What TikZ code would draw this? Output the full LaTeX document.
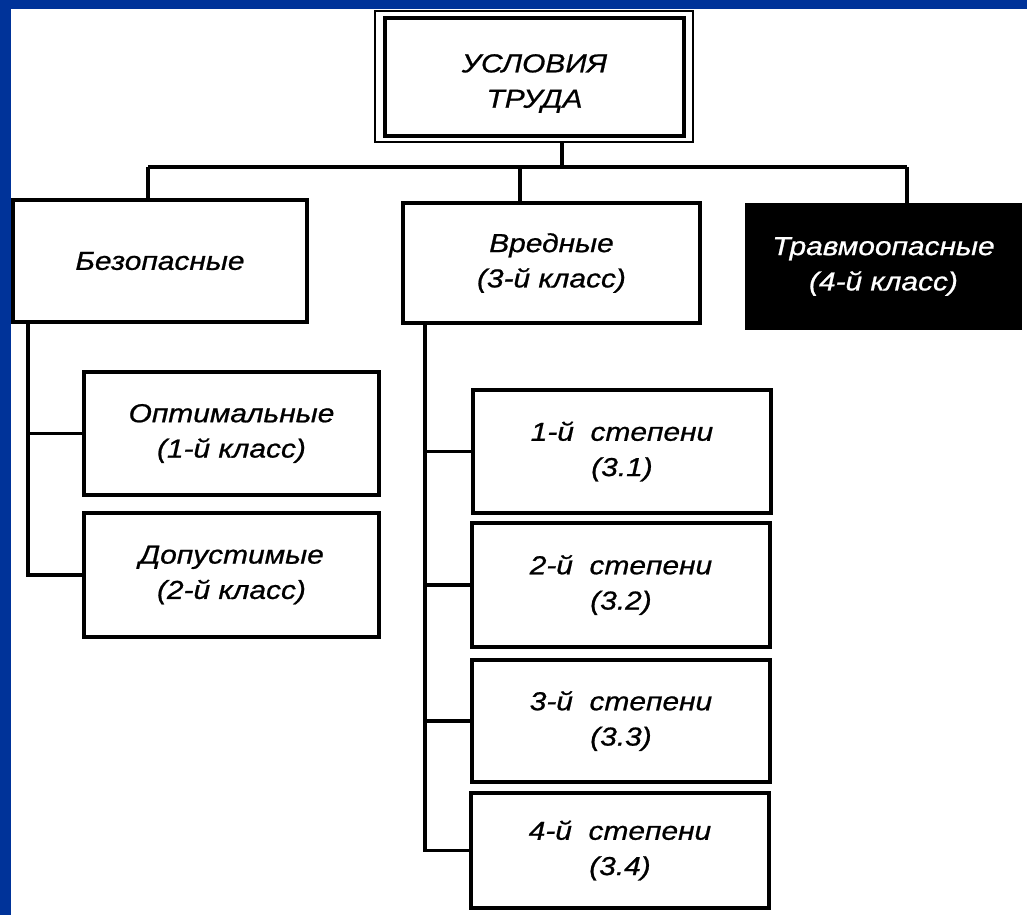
\documentclass[tikz,border=0pt]{standalone}
\usepackage{fontspec}
\setmainfont{Liberation Sans}[FakeStretch=1.15, FakeBold=0.8]
\definecolor{frameblue}{RGB}{0,51,153}
\tikzset{
  box/.style={draw=black, line width=2.4pt, inner sep=0pt, align=center,
    font=\itshape\fontsize{19.5}{26.5}\selectfont},
  wh/.style 2 args={minimum width={#1*0.75pt}, minimum height={#2*0.75pt}},
  darkbox/.style={box, fill=black, text=white},
  link/.style={draw=black, line width=2.3pt},
}
\begin{document}
\begin{tikzpicture}[x=0.75pt, y=-0.75pt]
\useasboundingbox (0,0) rectangle (1027,915);
\fill[white] (0,0) rectangle (1027,915);
\fill[frameblue] (0,0) rectangle (1027,9);
\fill[frameblue] (0,0) rectangle (11,915);

% top box with double frame
\node[box, line width=1.6pt, wh={318}{131}] (top) at (534,76.5) {};
\node[box, line width=3pt, wh={299}{118}, text height=46pt, text depth=0pt] (topin) at (534.5,77) {УСЛОВИЯ\\ТРУДА};

% level 1
\node[box, wh={294}{122}] (bez) at (160,261) {Безопасные};
\node[box, wh={297}{120}] (vred) at (551.5,263) {Вредные\\(3-й класс)};
\node[darkbox, wh={273}{123}] (trav) at (883.5,266.5) {Травмоопасные\\(4-й класс)};

% under Безопасные
\node[box, wh={295}{123}] (opt) at (231.5,433.5) {Оптимальные\\(1-й класс)};
\node[box, wh={295}{124}] (dop) at (231.5,575) {Допустимые\\(2-й класс)};

% under Вредные
\node[box, wh={298}{123}] (s1) at (622,451.5) {1-й\ \ степени\\(3.1)};
\node[box, wh={298}{124}] (s2) at (621,585) {2-й\ \ степени\\(3.2)};
\node[box, wh={298}{122}] (s3) at (621,721) {3-й\ \ степени\\(3.3)};
\node[box, wh={298}{115}] (s4) at (620,850.5) {4-й\ \ степени\\(3.4)};

% bus
\coordinate (j0) at (562,167);
\coordinate (busL) at (148,167);
\coordinate (busR) at (907,167);
\coordinate (j1) at (520,167);
\coordinate (lv) at (28,0);
\coordinate (rv) at (425,0);

\draw[link] (j0 |- top.south) -- (j0);
\draw[link] (busL) -- (busR);
\draw[link] (busL) -- (busL |- bez.north);
\draw[link] (j1) -- (j1 |- vred.north);
\draw[link] (busR) -- (busR |- trav.north);

\draw[link] (lv |- bez.south) |- (opt.west);
\draw[link] (lv |- bez.south) |- (dop.west);

\draw[link] (rv |- vred.south) |- (s1.west);
\draw[link] (rv |- vred.south) |- (s2.west);
\draw[link] (rv |- vred.south) |- (s3.west);
\draw[link] (rv |- vred.south) |- (s4.west);
\end{tikzpicture}
\end{document}
